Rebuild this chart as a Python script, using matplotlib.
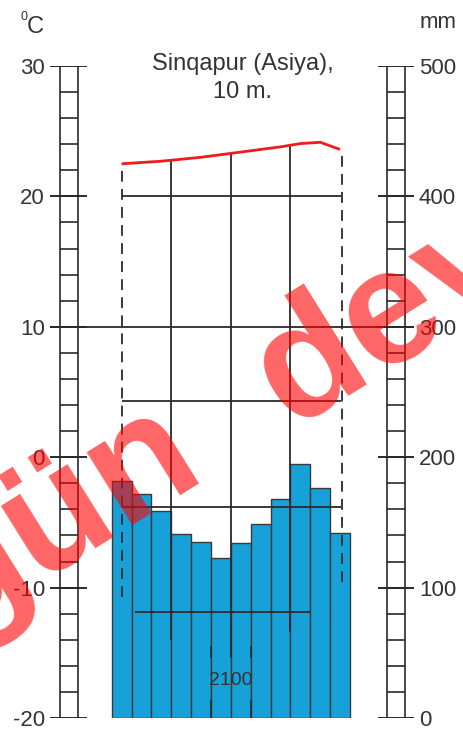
import numpy as np
import matplotlib
matplotlib.use("Agg")
import matplotlib.pyplot as plt

plt.rcParams['font.family'] = ['Liberation Sans', 'DejaVu Sans']

# ---------------- data ----------------
months = np.arange(1, 13)
month_tick_pos = [1, 3, 5, 7, 9, 11]
month_labels = ['Y', 'M', 'M', 'İ', 'S', 'N']
temperature_c = [22.5, 22.6, 22.7, 22.85, 23.0, 23.2, 23.4, 23.6, 23.8, 24.05, 24.15, 23.6]
precip_mm = [182, 172, 159, 141, 135, 123, 134, 149, 168, 195, 176, 142]
temp_ticks = [-20, -10, 0, 10, 20, 30]
precip_ticks = [0, 100, 200, 300, 400, 500]
title_text = "Sinqapur (Asiya),\n10 m."
annual_total = "2100"
watermark_words = ["gün", "dey"]

# ---------------- layout ----------------
W, H = 464, 749
fig = plt.figure(figsize=(W / 100, H / 100), dpi=100)
ax_left_px, ax_right_px, ax_top_px, ax_bot_px = 50, 414, 66, 718
ax = fig.add_axes([ax_left_px / W, (H - ax_bot_px) / H,
                   (ax_right_px - ax_left_px) / W, (ax_bot_px - ax_top_px) / H])
ax2 = ax.twinx()
ax.set_zorder(ax2.get_zorder() + 1)
ax.patch.set_visible(False)

bar_left_px, bar_w_px = 111.7, 19.86
def px2x(px):
    return 0.5 + (px - bar_left_px) / bar_w_px

ax.set_xlim(px2x(ax_left_px), px2x(ax_right_px))
ax.set_ylim(-20, 30)
ax2.set_ylim(0, 500)

for a in (ax, ax2):
    for s in a.spines.values():
        s.set_visible(False)

txt = '#333333'
lc = '#2a2a2a'

# bars (precipitation)
ax2.bar(months, precip_mm, width=1.0, color='#17a1d9', edgecolor='#3a3a3a', linewidth=1.0, zorder=2)

# ladders
for xl, xr, tl, tr in [(px2x(60), px2x(78), px2x(50), px2x(87)),
                       (px2x(387), px2x(405), px2x(378), px2x(414))]:
    ax.vlines([xl, xr], -20, 30, color=lc, lw=1.2, zorder=3)
    rungs = np.arange(-20, 31, 2)
    ax.hlines(rungs, xl, xr, color=lc, lw=1.2, zorder=3)
    ax.hlines(temp_ticks, tl, tr, color=lc, lw=1.4, zorder=3)

# decorative frame lines
lw = 1.3
ax.hlines(10, px2x(50), px2x(415), color=lc, lw=lw, zorder=4)
ax.hlines([20, 4.3, -3.8], 1.0, 12.05, color=lc, lw=lw, zorder=4)
ax.hlines(-11.85, 1.67, 10.48, color=lc, lw=lw, zorder=4)
ax.vlines(1.0, -10.7, temperature_c[0], color=lc, lw=lw, linestyles=(0, (6, 4)), zorder=4)
ax.vlines(12.1, -9.55, temperature_c[-1], color=lc, lw=lw, linestyles=(0, (6, 4)), zorder=4)
for xv, ybot in [(3.5, -14.0), (6.5, -15.4), (9.5, -13.4)]:
    ax.vlines(xv, ybot, np.interp(xv, months, temperature_c), color=lc, lw=lw, zorder=4)
ax.vlines([5.5, 7.5], -15.4, -14.5, color=lc, lw=lw, zorder=4)
ax.vlines([5.5, 7.5], -20, -18.6, color=lc, lw=lw, zorder=4)

# temperature curve
ax.plot(months, temperature_c, color='#ee1c1c', lw=2.0, zorder=5,
        solid_capstyle='butt', solid_joinstyle='round')

# annual total
ax.text(6.5, -17.1, annual_total, ha='center', va='center', fontsize=14, color=txt, zorder=6)

# ticks
ax.set_yticks(temp_ticks)
ax.set_yticklabels([str(t) for t in temp_ticks])
ax.tick_params(axis='y', length=0, pad=3.6, labelsize=16, labelcolor=txt)
ax2.set_yticks(precip_ticks)
ax2.set_yticklabels([str(t) for t in precip_ticks])
ax2.tick_params(axis='y', length=0, pad=3.6, labelsize=16, labelcolor=txt)
ax.set_xticks(month_tick_pos)
ax.set_xticklabels(month_labels)
ax.tick_params(axis='x', length=0, pad=3, labelsize=16, labelcolor=txt)
ax2.set_xticks([])

# texts
fig.text(243 / W, 1 - 53 / H, title_text, ha='center', va='top', fontsize=17,
         color=txt, linespacing=1.35)
fig.text(21 / W, 1 - 17 / H, '0', ha='left', va='center', fontsize=9, color=txt)
fig.text(27 / W, 1 - 33 / H, 'C', ha='left', va='baseline', fontsize=17, color=txt)
fig.text(420 / W, 1 - 28 / H, 'mm', ha='left', va='baseline', fontsize=16, color=txt)

# watermark
wm_kw = dict(rotation=32, rotation_mode='anchor', ha='left', va='baseline',
             fontsize=118, fontweight='bold', color='#ff0000', alpha=0.6, zorder=10)
fig.text(-47 / W, 1 - 633 / H, watermark_words[0], **wm_kw)
fig.text(290 / W, 1 - 428 / H, watermark_words[1], **wm_kw)

fig.savefig('out.png', dpi=100, facecolor='white')
